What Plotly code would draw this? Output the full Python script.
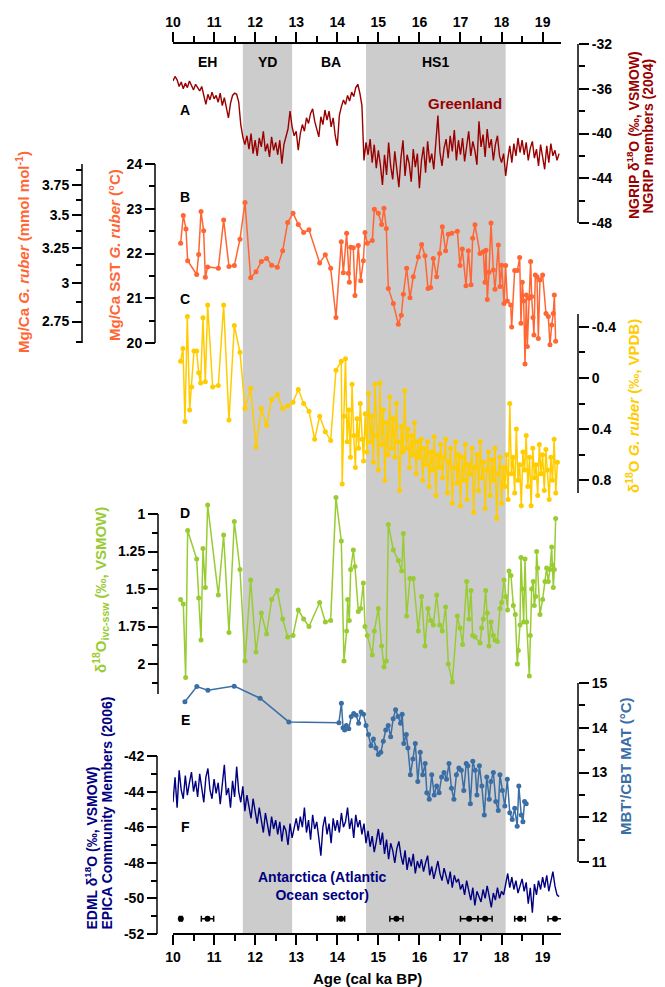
import numpy as np
import plotly.graph_objects as go

# ---------------- DATA ----------------
PERIOD_LABELS = ["EH", "YD", "BA", "HS1"]
PERIOD_CENTERS = [10.83, 12.3, 13.85, 16.4]
SHADED_PERIODS = [(11.7, 12.9), (14.7, 18.1)]

# A: NGRIP d18O, evenly sampled every 0.05 ka from 10.0 ka
NGRIP_START, NGRIP_STEP = 10.0, 0.05
ngrip_d18o = [
    -35.3, -34.9, -35.2, -35.8, -35.4, -36.0, -35.5, -35.9, -35.3, -35.7, -36.1,
    -35.6, -35.9, -36.2, -35.8, -36.6, -37.4, -36.5, -37.0, -36.3, -36.9,
    -36.6, -37.2, -36.4, -37.5, -36.8, -37.7, -38.6, -37.3, -36.6, -36.4,
    -36.5, -37.2, -39.2, -40.3, -41.0, -40.2, -41.4, -40.0, -41.8, -40.6,
    -42.0, -40.4, -41.2, -39.8, -41.6, -40.9, -42.1, -40.3, -41.5, -40.8,
    -41.9, -40.6, -42.7, -41.0, -40.3, -39.6, -38.0, -39.4, -40.2, -39.8,
    -41.5, -40.0, -39.2, -39.8, -38.6, -39.1, -38.2, -37.8, -38.9, -39.6,
    -40.3, -38.5, -39.2, -37.9, -38.8, -38.0, -39.4, -38.6, -40.2, -41.1,
    -38.4, -37.6, -37.0, -37.4, -36.6, -37.1, -36.3, -36.7, -35.9, -35.6,
    -36.4, -37.5, -42.4, -40.8, -41.9, -40.5, -42.6, -41.0, -43.1, -41.5,
    -42.8, -44.6, -41.9, -43.7, -40.8, -42.9, -44.1, -41.6, -43.4, -44.8,
    -42.2, -40.6, -43.8, -41.9, -42.7, -44.3, -41.4, -43.0, -41.8, -44.9,
    -42.4, -41.2, -43.5, -40.7, -42.6, -41.8, -43.2, -40.9, -38.4, -41.7,
    -42.9, -41.3, -40.5, -42.2, -40.2, -41.6, -39.7, -42.4, -40.6, -41.9,
    -40.4, -42.5, -41.1, -39.8, -42.0, -40.7, -41.5, -42.8, -38.9, -41.2,
    -40.1, -42.1, -39.6, -41.3, -40.5, -42.4, -41.0, -40.2, -42.0, -42.6,
    -41.8, -43.8, -42.3, -41.1, -42.6, -40.9, -42.0, -40.4, -41.7, -40.6,
    -41.9, -40.8, -42.4, -41.3, -40.7, -42.2, -41.4, -42.9, -41.0, -42.3,
    -43.2, -41.1, -42.6, -40.9, -42.0, -41.5, -42.4, -41.8,
]

# B: Mg/Ca SST (deg C)
sst_age = [10.186, 10.251, 10.316, 10.357, 10.576, 10.625, 10.682, 10.746, 10.787, 10.844,
           11.104, 11.233, 11.363, 11.493, 11.631, 11.753, 11.891, 12.021, 12.150, 12.280,
           12.402, 12.540, 12.670, 12.792, 12.922, 13.051, 13.181, 13.311, 13.571, 13.709,
           13.839, 13.968, 14.098, 14.147, 14.228, 14.269, 14.293, 14.326, 14.391, 14.431,
           14.512, 14.569, 14.634, 14.675, 14.731, 14.853, 14.902, 14.999, 15.080, 15.137,
           15.194, 15.243, 15.365, 15.486, 15.559, 15.608, 15.689, 15.770, 15.851, 15.973,
           16.054, 16.135, 16.209, 16.273, 16.338, 16.420, 16.493, 16.557, 16.638, 16.704,
           16.785, 16.923, 16.988, 17.045, 17.134, 17.191, 17.256, 17.296, 17.353, 17.475,
           17.556, 17.596, 17.621, 17.653, 17.694, 17.743, 17.799, 17.840, 17.921, 17.962,
           18.002, 18.059, 18.099, 18.140, 18.222, 18.246, 18.319, 18.384, 18.441, 18.473,
           18.505, 18.538, 18.571, 18.603, 18.627, 18.668, 18.708, 18.733, 18.765, 18.789,
           18.822, 18.862, 18.895, 18.935, 19.000, 19.082, 19.138, 19.179, 19.220, 19.260,
           19.285, 19.317]
sst_val = [22.23, 22.85, 22.55, 21.84, 21.53, 21.98, 22.94, 22.51, 21.47, 21.70,
           21.67, 22.75, 21.71, 21.73, 22.32, 23.14, 21.46, 21.59, 21.82, 21.89,
           21.74, 21.69, 22.06, 22.69, 22.90, 22.65, 22.47, 22.53, 21.79, 21.97,
           21.67, 20.57, 22.26, 21.57, 22.45, 21.56, 21.36, 22.14, 22.13, 21.06,
           22.18, 21.39, 21.84, 22.47, 22.23, 22.29, 22.99, 22.90, 22.65, 23.01,
           22.56, 21.22, 20.88, 20.42, 20.62, 21.09, 21.67, 21.01, 21.48, 21.92,
           22.20, 21.95, 21.22, 21.24, 21.89, 21.48, 22.00, 22.60, 22.06, 22.43,
           22.45, 22.50, 21.73, 22.10, 21.28, 22.06, 21.30, 22.34, 22.64, 22.00,
           22.04, 21.36, 22.07, 20.97, 21.58, 22.68, 21.63, 21.20, 22.19, 21.26,
           21.74, 20.88, 21.73, 20.94, 20.85, 20.36, 21.62, 21.62, 21.91, 20.44,
           21.36, 20.94, 19.53, 21.07, 19.92, 21.00, 21.82, 21.04, 20.57, 20.18,
           21.52, 21.48, 20.10, 21.41, 21.52, 20.66, 20.59, 19.96, 20.40, 20.66,
           21.07, 20.04]

# Mg/Ca axis (mmol/mol): Mg/Ca = B * exp(A * SST)
MGCA_A, MGCA_B = 0.1015, 0.344
mgca_major = [2.75, 3.0, 3.25, 3.5, 3.75]
mgca_minor = [2.625, 2.875, 3.125, 3.375, 3.625, 3.875]

# C: d18O G. ruber (permil VPDB)
ruber_age_early = [10.186, 10.243, 10.292, 10.349, 10.406, 10.454, 10.511, 10.576, 10.625, 10.673,
                   10.730, 10.787, 10.844, 10.966, 11.104, 11.233, 11.363, 11.493, 11.631, 11.753,
                   11.891, 12.021, 12.150, 12.280, 12.402, 12.540, 12.670, 12.792, 12.922, 13.051,
                   13.181, 13.311, 13.449, 13.571, 13.709, 13.839, 13.968, 14.098]
ruber_val_early = [-0.13, -0.23, 0.34, -0.48, 0.25, 0.07, -0.21, -0.21, -0.04, 0.04,
                   -0.47, 0.03, -0.57, 0.07, 0.06, -0.57, 0.33, -0.41, -0.20, 0.24,
                   0.08, 0.54, 0.24, 0.37, 0.17, 0.13, 0.24, 0.22, 0.19, 0.09,
                   0.20, 0.26, 0.48, 0.30, 0.42, 0.49, -0.06, -0.13]
RUBER_DENSE_START, RUBER_DENSE_STEP = 14.12, 0.04
ruber_val_dense = [
    0.83, 0.30, -0.15, 0.50, 0.25, 0.62, 0.05, 0.45, 0.70, 0.32, 0.55, 0.20, 0.48, 0.65, 0.28,
    0.58, 0.12, 0.50, 0.30, 0.66, 0.05, 0.45, 0.72, 0.04, 0.52, 0.25, 0.80, 0.35, 0.60, 0.15,
    0.55, 0.32, 0.62, 0.20, 0.50, 0.88, 0.38, 0.58, 0.10, 0.55, 0.40, 0.70, 0.45, 0.60, 0.35,
    0.75, 0.50, 0.62, 0.48, 0.80, 0.55, 0.68, 0.50, 0.85, 0.58, 0.72, 0.46, 0.92, 0.60, 0.70,
    0.52, 0.78, 0.62, 0.48, 0.90, 0.66, 0.55, 0.98, 0.70, 0.50, 0.82, 0.60, 1.00, 0.62, 0.80,
    0.52, 0.95, 0.68, 0.75, 0.55, 1.05, 0.70, 0.60, 0.88, 0.50, 0.78, 0.66, 1.02, 0.72, 0.58,
    0.92, 0.64, 0.80, 0.55, 1.10, 0.75, 0.62, 0.98, 0.70, 0.85, 0.60, 0.95, 0.20, 0.75, 0.62,
    0.90, 0.40, 0.80, 0.68, 1.00, 0.58, 0.72, 0.45, 0.85, 0.62, 1.00, 0.55, 0.78, 0.68, 0.92,
    0.52, 0.75, 0.60, 0.88, 0.56, 0.72, 0.95, 0.62, 0.80, 0.48, 0.90, 0.66,
]

# D: d18O ivc-ssw (permil VSMOW)
ivc_age = [10.186, 10.251, 10.308, 10.357, 10.576, 10.625, 10.682, 10.730, 10.787, 10.844,
           11.104, 11.233, 11.363, 11.493, 11.631, 11.753, 11.891, 12.021, 12.150, 12.280,
           12.402, 12.540, 12.670, 12.792, 12.922, 13.051, 13.181, 13.311, 13.571, 13.709,
           13.839, 13.968, 14.098, 14.163, 14.228, 14.253, 14.293, 14.326, 14.391, 14.431,
           14.512, 14.569, 14.634, 14.675, 14.731, 14.853, 14.902, 14.999, 15.080, 15.137,
           15.194, 15.243, 15.365, 15.486, 15.567, 15.608, 15.689, 15.770, 15.851, 15.973,
           16.054, 16.135, 16.209, 16.273, 16.338, 16.420, 16.493, 16.557, 16.638, 16.704,
           16.801, 16.923, 16.988, 17.053, 17.150, 17.207, 17.256, 17.296, 17.353, 17.475,
           17.515, 17.556, 17.613, 17.653, 17.694, 17.743, 17.799, 17.840, 17.897, 17.962,
           18.002, 18.059, 18.099, 18.148, 18.181, 18.229, 18.286, 18.335, 18.384, 18.408,
           18.449, 18.473, 18.505, 18.538, 18.571, 18.611, 18.676, 18.700, 18.733, 18.773,
           18.797, 18.830, 18.854, 18.879, 18.935, 19.000, 19.057, 19.098, 19.138, 19.179,
           19.220, 19.244, 19.260, 19.285, 19.317]
ivc_val = [1.57, 1.60, 2.09, 1.11, 1.30, 1.56, 1.84, 1.23, 1.49, 0.94,
           1.54, 1.14, 1.79, 1.05, 1.37, 1.98, 1.44, 1.92, 1.66, 1.80,
           1.57, 1.51, 1.70, 1.82, 1.81, 1.64, 1.70, 1.75, 1.59, 1.72,
           1.71, 0.89, 1.18, 1.98, 1.78, 1.57, 1.71, 1.37, 1.24, 1.35,
           1.65, 1.63, 1.46, 1.75, 1.81, 1.94, 1.78, 1.63, 1.88, 2.02,
           1.98, 1.07, 1.24, 1.31, 1.38, 1.13, 1.68, 1.43, 1.43, 1.78,
           1.55, 1.88, 1.63, 1.71, 1.74, 1.54, 1.74, 1.78, 1.62, 2.00,
           2.12, 1.68, 1.76, 1.87, 1.45, 1.70, 1.51, 1.81, 1.82, 1.86,
           1.76, 1.70, 1.51, 1.66, 1.88, 1.72, 1.81, 1.84, 1.85, 1.63,
           1.59, 1.44, 1.55, 1.64, 1.38, 1.41, 1.61, 1.67, 2.00, 1.91,
           1.74, 1.29, 1.50, 1.72, 1.30, 1.72, 2.08, 1.81, 1.50, 1.45,
           1.61, 1.55, 1.25, 1.36, 1.67, 1.57, 1.45, 1.36, 1.45, 1.37,
           1.22, 1.34, 1.49, 1.37, 1.03]

# E: MBT'/CBT MAT (deg C)
mat_age = [10.29, 10.58, 10.85, 11.49, 12.12, 12.82, 14.04,
           14.10, 14.14, 14.18, 14.22, 14.28, 14.34, 14.40, 14.46, 14.52, 14.58, 14.64, 14.70,
           14.76, 14.82, 14.88, 14.94, 15.00, 15.06, 15.12, 15.18, 15.24, 15.30, 15.36, 15.42,
           15.48, 15.54, 15.58, 15.62, 15.68, 15.72, 15.78, 15.84, 15.90, 15.96, 16.02, 16.08,
           16.14, 16.18, 16.24, 16.30, 16.36, 16.42, 16.48, 16.54, 16.60, 16.66, 16.72, 16.78,
           16.84, 16.90, 16.96, 17.02, 17.08, 17.14, 17.18, 17.24, 17.30, 17.36, 17.40, 17.46,
           17.52, 17.58, 17.64, 17.70, 17.74, 17.80, 17.86, 17.92, 17.96, 18.02, 18.08, 18.14,
           18.20, 18.26, 18.32, 18.38, 18.42, 18.48, 18.52, 18.56, 18.60]
mat_val = [14.58, 14.92, 14.84, 14.93, 14.66, 14.13, 14.11,
           14.55, 14.00, 13.95, 14.05, 13.98, 14.25, 14.32, 14.28, 14.10, 14.35, 14.30, 14.05,
           13.85, 13.60, 13.75, 13.55, 13.40, 13.45, 13.70, 13.95, 14.05, 13.80, 14.20, 14.40,
           14.25, 14.10, 14.30, 13.65, 13.85, 13.55, 12.95, 13.30, 13.65, 12.80, 13.45, 12.95,
           13.20, 12.55, 12.40, 12.95, 12.50, 12.70, 12.55, 12.90, 13.00, 12.85, 13.20, 12.65,
           12.40, 12.95, 13.10, 13.05, 12.60, 13.20, 13.15, 12.30, 13.25, 13.05, 12.50, 13.15,
           12.70, 12.05, 12.90, 12.40, 12.80, 13.00, 12.35, 12.15, 12.95, 12.60, 12.25, 12.85,
           12.10, 11.95, 12.20, 11.80, 12.70, 12.05, 11.90, 12.35, 12.30]

# F: EDML d18O, evenly sampled every 0.05 ka from 10.0 ka
EDML_START, EDML_STEP = 10.0, 0.05
edml_d18o = [
    -44.6, -43.2, -44.9, -42.8, -43.9, -44.4, -43.1, -44.2, -43.5, -42.9, -44.0,
    -43.4, -44.3, -43.0, -43.8, -44.6, -43.2, -42.7, -43.9, -44.4, -43.3,
    -44.1, -43.5, -44.7, -43.6, -42.5, -44.2, -43.8, -44.9, -43.4, -44.3,
    -42.6, -44.0, -44.6, -43.7, -45.1, -44.2, -44.8, -45.5, -44.4, -45.0,
    -45.8, -44.9, -45.6, -46.3, -45.2, -45.9, -46.5, -45.4, -46.1, -45.6,
    -46.4, -45.7, -46.8, -45.9, -46.2, -47.0, -45.8, -46.6, -46.0, -45.5,
    -46.2, -45.4, -46.0, -44.9, -46.3, -45.6, -46.7, -45.3, -46.1, -45.7,
    -46.6, -47.6, -46.0, -45.4, -46.4, -45.8, -46.9, -45.5, -46.2, -45.6,
    -46.3, -45.2, -46.0, -45.7, -44.9, -46.1, -45.5, -46.6, -45.3, -46.0,
    -45.6, -46.4, -45.8, -46.9, -46.2, -47.1, -46.5, -47.4, -46.8, -46.1,
    -47.0, -46.3, -47.5, -46.7, -47.8, -46.9, -47.3, -48.0, -47.2, -46.8,
    -47.6, -48.1, -47.3, -48.4, -47.7, -48.2, -47.5, -48.6, -47.9, -48.3,
    -47.8, -48.5, -48.0, -47.6, -48.7, -48.2, -48.9, -48.4, -47.9, -48.6,
    -49.0, -48.3, -48.8, -49.2, -48.5, -49.4, -48.7, -49.1, -48.9, -49.5,
    -49.2, -49.8, -49.0, -49.6, -50.1, -49.4, -50.4, -49.6, -49.9, -50.2,
    -49.5, -50.0, -49.3, -49.9, -50.5, -49.7, -50.1, -49.4, -50.0, -49.6,
    -49.8, -49.2, -48.6, -49.4, -48.8, -49.5, -49.0, -49.7, -49.3, -48.9,
    -49.6, -49.1, -50.3, -49.4, -50.8, -49.2, -49.8, -49.0, -49.5, -48.8,
    -49.4, -48.7, -49.6, -49.0, -48.5, -49.3, -49.8, -49.9,
]

# Age-model tie points (ka) with 1-sigma errors
date_age = [10.19, 10.84, 14.09, 15.44, 17.21, 17.60, 18.45, 19.30]
date_err = [0.03, 0.15, 0.09, 0.16, 0.21, 0.17, 0.13, 0.17]
DATE_LEVEL = -51.15  # plotted on EDML axis scale

# ---------------- LAYOUT HELPERS ----------------
WIN_W, WIN_H = 665, 987
PAGE_PAD = 8                      # default page margin around the plot div
W, H = WIN_W - PAGE_PAD, WIN_H - PAGE_PAD
PLOT_TOP, PLOT_BOT = 43, 934
X0_PX, PX_PER_KA = 173, 41.07
AGE_RANGE = [10, 19.45]
FONT = "Liberation Sans, Arial, sans-serif"
TICK_SIZE = 14
TITLE_SIZE = 15

C_NGRIP = "#990000"
C_SST = "#ff6633"
C_RUBER = "#ffcc00"
C_IVC = "#99cc33"
C_MAT = "#3a6ea5"
C_EDML = "#000080"
C_BAND = "#cccccc"


def fx(px):
    return (px - PAGE_PAD) / W


def fy(py):
    return 1 - (py - PAGE_PAD) / H


def fmt(v):
    return "%g" % v


fig = go.Figure()
shapes = []
annotations = []
layout_axes = {}


def add_yaxis(name, ref, seg, pos_px, side, major, minor, ticktext=None, first=False):
    (pt, vt), (pb, vb) = seg
    slope = (vb - vt) / (pb - pt)
    r0 = vt + slope * (PLOT_BOT - pt)
    r1 = vt + slope * (PLOT_TOP - pt)
    ax = dict(
        domain=[fy(PLOT_BOT), fy(PLOT_TOP)], range=[r0, r1],
        anchor="free", position=fx(pos_px), side=side, automargin=False,
        tickmode="array", tickvals=major,
        ticktext=ticktext if ticktext is not None else [fmt(v) for v in major],
        ticks="outside", ticklen=10, tickwidth=1.5, tickcolor="black",
        minor=dict(tickmode="array", tickvals=minor, ticks="outside", ticklen=6,
                   tickwidth=1.5, tickcolor="black", showgrid=False),
        showgrid=False, zeroline=False, showline=False,
        tickfont=dict(family=FONT, size=TICK_SIZE, color="black", weight="bold"),
        fixedrange=True,
    )
    if not first:
        ax["overlaying"] = "y"
    layout_axes[name] = ax
    shapes.append(dict(type="line", xref="paper", x0=fx(pos_px), x1=fx(pos_px),
                       yref=ref, y0=vt, y1=vb, line=dict(color="black", width=1.5),
                       layer="above"))


# F: EDML (main y axis)
add_yaxis("yaxis", "y", [(756, -42), (934, -52)], 157, "left",
          [-42, -44, -46, -48, -50, -52], [-43, -45, -47, -49, -51], first=True)
# A: NGRIP
add_yaxis("yaxis2", "y2", [(44, -32), (223, -48)], 578, "right",
          [-32, -36, -40, -44, -48], [-34, -38, -42, -46])
# B: SST
add_yaxis("yaxis3", "y3", [(164, 24), (343, 20)], 155, "left",
          [20, 21, 22, 23, 24], [20.5, 21.5, 22.5, 23.5])
# Mg/Ca scale (same SST scale, labelled in mmol/mol)
mg_major_T = [float(np.log(m / MGCA_B) / MGCA_A) for m in mgca_major]
mg_minor_T = [float(np.log(m / MGCA_B) / MGCA_A) for m in mgca_minor]
add_yaxis("yaxis4", "y4", [(164, 24), (343, 20)], 82, "left",
          mg_major_T, mg_minor_T, ticktext=[fmt(m) for m in mgca_major])
# C: d18O ruber
add_yaxis("yaxis5", "y5", [(314, -0.5), (493, 0.9)], 578, "right",
          [-0.4, 0, 0.4, 0.8], [-0.2, 0.2, 0.6])
# D: d18O ivc-ssw
add_yaxis("yaxis6", "y6", [(514, 1.0), (694, 2.2)], 158, "left",
          [1, 1.25, 1.5, 1.75, 2], [1.125, 1.375, 1.625, 1.875, 2.125])
# E: MAT
add_yaxis("yaxis7", "y7", [(683, 15), (862, 11)], 578, "right",
          [11, 12, 13, 14, 15], [11.5, 12.5, 13.5, 14.5])

x_domain = [fx(X0_PX), fx(X0_PX + (AGE_RANGE[1] - AGE_RANGE[0]) * PX_PER_KA)]
x_major = list(range(10, 20))
x_minor = [v + 0.5 for v in range(10, 19)]
xcommon = dict(
    domain=x_domain, range=AGE_RANGE, anchor="free", automargin=False,
    tickmode="array", tickvals=x_major, ticktext=[str(v) for v in x_major],
    ticks="outside", ticklen=10, tickwidth=1.5, tickcolor="black",
    minor=dict(tickmode="array", tickvals=x_minor, ticks="outside", ticklen=6,
               tickwidth=1.5, tickcolor="black", showgrid=False),
    showline=True, linecolor="black", linewidth=1.5,
    showgrid=False, zeroline=False,
    tickfont=dict(family=FONT, size=TICK_SIZE, color="black", weight="bold"),
    fixedrange=True,
)
layout_axes["xaxis"] = dict(xcommon, position=fy(PLOT_BOT), side="bottom")
layout_axes["xaxis2"] = dict(xcommon, position=fy(PLOT_TOP), side="top", overlaying="x")

# shaded stadials
for a0, a1 in SHADED_PERIODS:
    shapes.append(dict(type="rect", xref="x", x0=a0, x1=a1, yref="paper",
                       y0=fy(PLOT_BOT), y1=fy(PLOT_TOP), fillcolor=C_BAND,
                       line=dict(width=0), layer="below"))

# ---------------- TRACES ----------------
ngrip_age = [round(NGRIP_START + NGRIP_STEP * i, 3) for i in range(len(ngrip_d18o))]
edml_age = [round(EDML_START + EDML_STEP * i, 3) for i in range(len(edml_d18o))]
ruber_age = ruber_age_early + [round(RUBER_DENSE_START + RUBER_DENSE_STEP * i, 3)
                               for i in range(len(ruber_val_dense))]
ruber_val = ruber_val_early + ruber_val_dense

fig.add_trace(go.Scatter(x=ngrip_age, y=ngrip_d18o, mode="lines", yaxis="y2",
                         line=dict(color=C_NGRIP, width=1.4), showlegend=False))
fig.add_trace(go.Scatter(x=sst_age, y=sst_val, mode="lines+markers", yaxis="y3",
                         line=dict(color=C_SST, width=1.5),
                         marker=dict(color=C_SST, size=5), showlegend=False))
# invisible helper so the Mg/Ca scale and the top age axis are drawn
fig.add_trace(go.Scatter(x=[sst_age[0]], y=[sst_val[0]], mode="markers", xaxis="x2", yaxis="y4",
                         marker=dict(opacity=0), hoverinfo="skip", showlegend=False))
fig.add_trace(go.Scatter(x=ruber_age, y=ruber_val, mode="lines+markers", yaxis="y5",
                         line=dict(color=C_RUBER, width=1.5),
                         marker=dict(color=C_RUBER, size=5), showlegend=False))
fig.add_trace(go.Scatter(x=ivc_age, y=ivc_val, mode="lines+markers", yaxis="y6",
                         line=dict(color=C_IVC, width=1.5),
                         marker=dict(color=C_IVC, size=5), showlegend=False))
fig.add_trace(go.Scatter(x=mat_age, y=mat_val, mode="lines+markers", yaxis="y7",
                         line=dict(color=C_MAT, width=1.5),
                         marker=dict(color=C_MAT, size=5), showlegend=False))
fig.add_trace(go.Scatter(x=edml_age, y=edml_d18o, mode="lines", yaxis="y",
                         line=dict(color=C_EDML, width=1.4), showlegend=False))
fig.add_trace(go.Scatter(x=date_age, y=[DATE_LEVEL] * len(date_age), mode="markers", yaxis="y",
                         marker=dict(color="black", size=6),
                         error_x=dict(type="data", array=date_err, color="black",
                                      thickness=1.5, width=3),
                         showlegend=False))

# ---------------- TEXT ----------------
def ann(text, xpx, ypx, color="black", size=TITLE_SIZE, angle=0, xref="paper", x=None,
        align="center", yanchor="middle"):
    annotations.append(dict(
        text=text, x=(x if x is not None else fx(xpx)), y=fy(ypx),
        xref=xref, yref="paper", showarrow=False, textangle=angle,
        xanchor="center", yanchor=yanchor, align=align,
        font=dict(family=FONT, size=size, color=color, weight="bold")))


for lab, cx in zip(PERIOD_LABELS, PERIOD_CENTERS):
    ann(lab, 0, 62, size=14, xref="x", x=cx)
for lab, ypx in zip("ABCDEF", [110, 197, 299, 513, 720, 827]):
    ann(lab, 185, ypx, size=14)

ann("Greenland", 0, 103, color=C_NGRIP, size=15, xref="x", x=17.11)
ann("Antarctica (Atlantic<br>Ocean sector)", 322, 886, color=C_EDML, size=14)

# axis titles (rotated, reading bottom-to-top)
ann("NGRIP δ<sup>18</sup>O (‰, VSMOW)", 633, 221, color=C_NGRIP, size=14, angle=-90,
    yanchor="bottom")
ann("NGRIP members (2004)", 648, 216, color=C_NGRIP, size=14, angle=-90, yanchor="bottom")
ann("Mg/Ca <i>G. ruber</i> (mmol mol<sup>-1</sup>)", 22, 252, color=C_SST, angle=-90)
ann("Mg/Ca SST <i>G. ruber</i> (°C)", 114, 255, color=C_SST, angle=-90)
ann("δ<sup>18</sup>O <i>G. ruber</i> (‰, VPDB)", 633, 406, color=C_RUBER, angle=-90)
ann("δ<sup>18</sup>O<sub>ivc-ssw</sub> (‰, VSMOW)", 100, 590, color=C_IVC, angle=-90)
ann("MBT'/CBT MAT (°C)", 625, 766, color=C_MAT, angle=-90)
ann("EDML δ<sup>18</sup>O (‰, VSMOW)", 91, 932, color=C_EDML, size=14, angle=-90,
    yanchor="bottom")
ann("EPICA Community Members (2006)", 106, 932, color=C_EDML, size=14, angle=-90,
    yanchor="bottom")
ann("Age (cal ka BP)", 367, 978, size=15)

fig.update_layout(
    template="none",
    width=W, height=H, margin=dict(l=0, r=0, t=0, b=0, pad=0), autosize=False,
    paper_bgcolor="white", plot_bgcolor="rgba(0,0,0,0)",
    showlegend=False, shapes=shapes, annotations=annotations,
    font=dict(family=FONT, color="black"),
    **layout_axes,
)

fig.write_html("out.html")
